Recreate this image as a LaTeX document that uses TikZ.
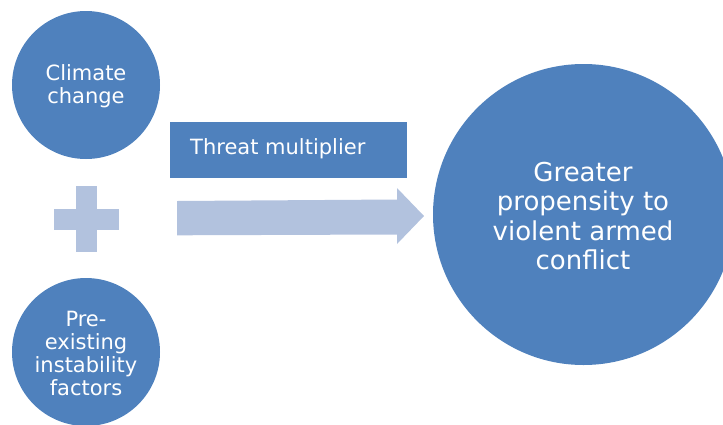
\documentclass[tikz,border=0pt]{standalone}
\usepackage{fontspec}
\setmainfont{DejaVu Sans}
\definecolor{dblue}{HTML}{4F81BD}
\definecolor{lblue}{HTML}{B2C2DE}
\begin{document}
\begin{tikzpicture}[x=1pt,y=-1pt,
  bubble/.style={circle,fill=dblue,inner sep=0pt},
  smalltxt/.style={text=white,align=center,inner sep=0pt,font=\fontsize{21}{23}\selectfont},
  bigtxt/.style={text=white,align=center,inner sep=0pt,font=\fontsize{26}{29.3}\selectfont},
  lightshape/.style={fill=lblue,draw=none}]
\useasboundingbox (0,0) rectangle (723,424);
\clip (0,0) rectangle (723,424);
% circles
\node[bubble,minimum size=148pt] (cc) at (86,85) {};
\node[smalltxt] (cct) at (86,86) {Climate\\change};
\node[bubble,minimum size=148pt] (pe) at (86,352) {};
\node[smalltxt] (pet) at (86,353) {Pre-\\existing\\instability\\factors};
\node[bubble,minimum size=301pt] (gp) at (583.5,214.5) {};
\node[bigtxt] (gpt) at (583,216) {Greater\\propensity to\\violent armed\\conflict};
% plus
\fill[lightshape] (76,186) rectangle (97,252);
\fill[lightshape] (54,209) rectangle (119,230);
% threat multiplier box
\node[fill=dblue,minimum width=237pt,minimum height=56pt,inner sep=0pt,anchor=north west] (tm) at (170,122) {};
\node[text=white,inner sep=0pt,anchor=base west,font=\fontsize{21}{23}\selectfont] (tmt) at (190,154) {Threat multiplier};
% arrow
\fill[lightshape] (177,201) -- (397,199.5) -- (397,188) -- (424,216) -- (397,244) -- (397,234.5) -- (177,235.3) -- cycle;
\end{tikzpicture}
\end{document}
